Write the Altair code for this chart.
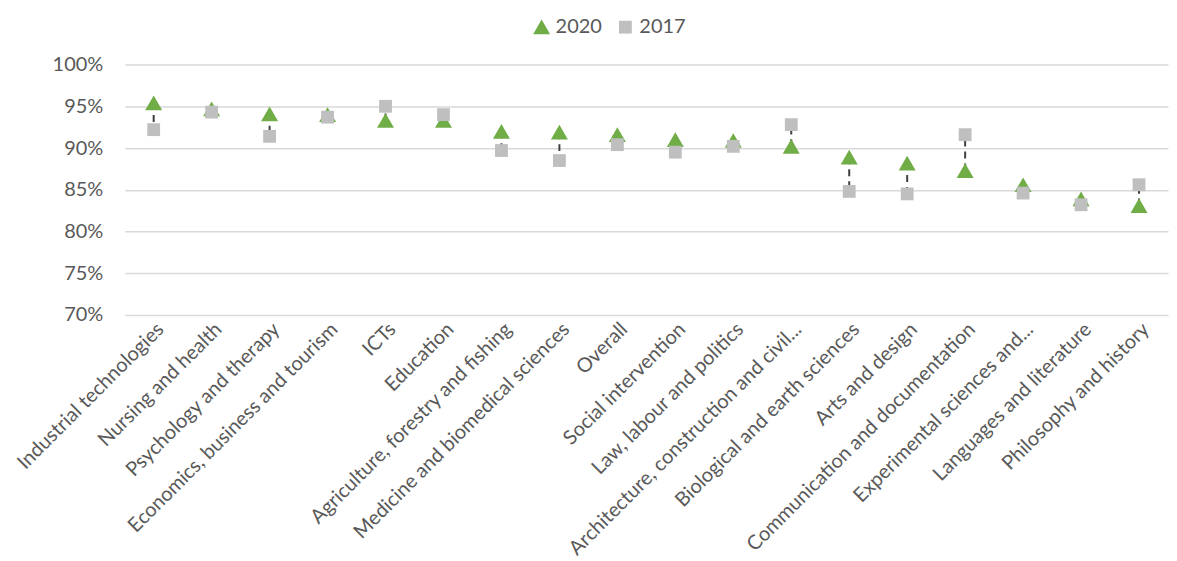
import altair as alt
import pandas as pd

categories = [
    "Industrial technologies", "Nursing and health", "Psychology and therapy",
    "Economics, business and tourism", "ICTs", "Education",
    "Agriculture, forestry and fishing", "Medicine and biomedical sciences",
    "Overall", "Social intervention", "Law, labour and politics",
    "Architecture, construction and civil...", "Biological and earth sciences",
    "Arts and design", "Communication and documentation",
    "Experimental sciences and...", "Languages and literature",
    "Philosophy and history",
]
v2020 = [95.4, 94.7, 94.1, 94.0, 93.3, 93.3, 92.0, 91.9, 91.6, 91.0, 90.9,
         90.2, 88.9, 88.2, 87.3, 85.6, 83.9, 83.1]
v2017 = [92.2, 94.3, 91.4, 93.7, 95.0, 94.0, 89.7, 88.5, 90.4, 89.5, 90.2,
         92.8, 84.8, 84.5, 91.6, 84.6, 83.2, 85.6]
series = ["2020", "2017"]
y_ticks = [0.70, 0.75, 0.80, 0.85, 0.90, 0.95, 1.00]

wide = pd.DataFrame({
    "cat": categories,
    "a": [v / 100 for v in v2020],
    "b": [v / 100 for v in v2017],
})
long = pd.DataFrame({
    "cat": categories * 2,
    "year": [series[0]] * len(categories) + [series[1]] * len(categories),
    "val": [v / 100 for v in v2020] + [v / 100 for v in v2017],
    "order": [0] * len(categories) + [1] * len(categories),
})

FONT = "Lato"
TXT = "#595959"

x_enc = alt.X(
    "cat:N", sort=categories, title=None,
    scale=alt.Scale(paddingInner=0, paddingOuter=0),
    axis=alt.Axis(labelAngle=-45, labelFontSize=20, labelColor=TXT, labelFont=FONT,
                  labelLimit=500, ticks=False, domain=False, grid=False, labelPadding=4),
)
y_scale = alt.Scale(domain=[0.70, 1.0], nice=False, zero=False)

rules = alt.Chart(wide).mark_rule(
    color="#404040", strokeWidth=2, strokeDash=[7, 5]
).encode(
    x=x_enc,
    y=alt.Y("a:Q", scale=y_scale, title=None,
            axis=alt.Axis(values=y_ticks, format=".0%", labelFontSize=20, labelColor=TXT,
                          labelFont=FONT, labelPadding=22, ticks=False, domain=False,
                          gridColor="#d9d9d9", gridWidth=1.5)),
    y2="b:Q",
)

points = alt.Chart(long).mark_point(filled=True, opacity=1).encode(
    x=alt.X("cat:N", sort=categories),
    y=alt.Y("val:Q", scale=y_scale),
    color=alt.Color("year:N", scale=alt.Scale(domain=series, range=["#70ad47", "#bfbfbf"]),
                    legend=alt.Legend(title=None, orient="none", direction="horizontal",
                                      legendX=408, legendY=-48, labelFontSize=20,
                                      labelColor=TXT, labelFont=FONT, symbolSize=190,
                                      columnPadding=13, symbolOpacity=1)),
    shape=alt.Shape("year:N", scale=alt.Scale(domain=series, range=["triangle-up", "square"])),
    size=alt.Size("year:N", scale=alt.Scale(domain=series, range=[290, 165]), legend=None),
    order=alt.Order("order:Q"),
)

chart = alt.layer(rules, points).properties(
    width=1046, height=251,
    padding={"left": 5, "top": 8, "right": 1, "bottom": 1},
).configure(font=FONT).configure_view(stroke=None)

chart.save("out.html", embed_options={"renderer": "svg", "actions": False})
